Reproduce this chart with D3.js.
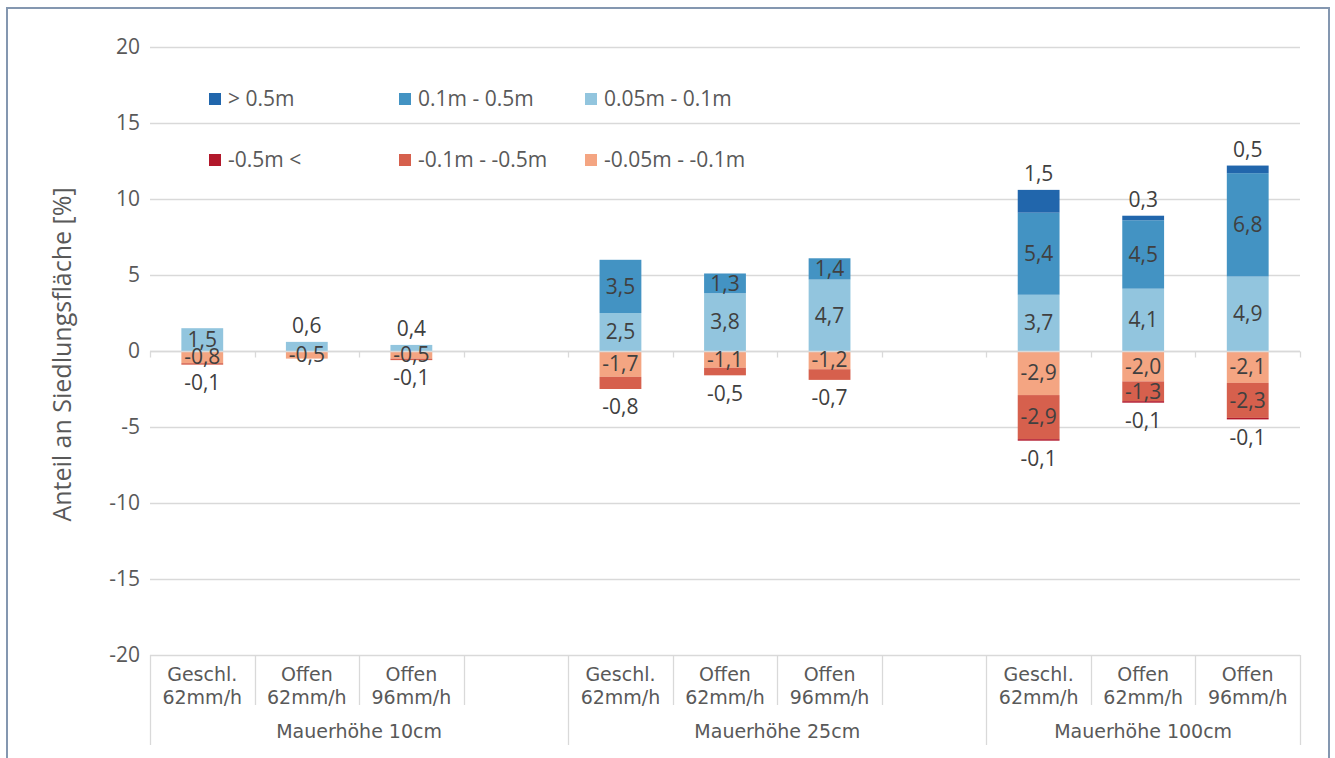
<!DOCTYPE html>
<html><head><meta charset="utf-8">
<script src="https://cdn.jsdelivr.net/npm/d3@7"></script>
<style>
html,body{margin:0;padding:0;background:#fff;}
svg{display:block;}
</style></head>
<body>
<svg id="chart" width="1335" height="758"></svg>
<script>
// ---------- DATA ----------
const groups = ["Mauerhöhe 10cm", "Mauerhöhe 25cm", "Mauerhöhe 100cm"];
const categoryLine1 = ["Geschl.", "Offen", "Offen"];
const categoryLine2 = ["62mm/h", "62mm/h", "96mm/h"];
// slot keys: 3 bars per group, empty slot after groups 1 and 2
const slots = ["g0c0","g0c1","g0c2","g0e","g1c0","g1c1","g1c2","g1e","g2c0","g2c1","g2c2"];
const barSlots = ["g0c0","g0c1","g0c2","g1c0","g1c1","g1c2","g2c0","g2c1","g2c2"];

const seriesNames = ["> 0.5m", "0.1m - 0.5m", "0.05m - 0.1m", "-0.5m <", "-0.1m - -0.5m", "-0.05m - -0.1m"];
const seriesColors = ["#2166ac", "#4393c3", "#92c5de", "#b2182b", "#d6604d", "#f4a582"];

// values per bar (order of barSlots)
const gt05     = [0, 0, 0,   0, 0, 0,   1.5, 0.3, 0.5];
const m01_05   = [0, 0, 0,   3.5, 1.3, 1.4,   5.4, 4.5, 6.8];
const m005_01  = [1.5, 0.6, 0.4,   2.5, 3.8, 4.7,   3.7, 4.1, 4.9];
const ltm05    = [0, 0, 0,   0, 0, 0,   -0.1, -0.1, -0.1];
const n01_05   = [-0.1, 0, -0.1,   -0.8, -0.5, -0.7,   -2.9, -1.3, -2.3];
const n005_01  = [-0.8, -0.5, -0.5,   -1.7, -1.1, -1.2,   -2.9, -2.0, -2.1];

const yTicks = [-20, -15, -10, -5, 0, 5, 10, 15, 20];
const yTitle = "Anteil an Siedlungsfläche [%]";

// ---------- LAYOUT ----------
const svg = d3.select("#chart");
const plot = {left: 150, right: 1300, top: 47, bottom: 655};

const x = d3.scaleBand().domain(slots).range([plot.left, plot.right]).paddingInner(0.6).paddingOuter(0.3);
const xSlot = d3.scaleBand().domain(slots).range([plot.left, plot.right]).padding(0);
const y = d3.scaleLinear().domain([-20, 20]).range([plot.bottom, plot.top]);

const loc = d3.formatLocale({decimal: ",", thousands: ".", grouping: [3], currency: ["", "€"], minus: "-"});
const fmt = loc.format(".1f");

// chart border
svg.append("rect").attr("x", 7).attr("y", 8).attr("width", 1322).attr("height", 800)
  .attr("fill", "none").attr("stroke", "#8497b0").attr("stroke-width", 2);

// gridlines
svg.append("g").selectAll("line").data(yTicks).join("line")
  .attr("x1", plot.left).attr("x2", plot.right)
  .attr("y1", d => Math.round(y(d)) + 0.5).attr("y2", d => Math.round(y(d)) + 0.5)
  .attr("stroke", "#d9d9d9").attr("stroke-width", 1.3);

// y tick labels
svg.append("g").selectAll("text").data(yTicks).join("text")
  .attr("x", 140).attr("y", d => y(d)).attr("dy", "0.35em")
  .attr("text-anchor", "end")
  .attr("font-family", "'Open Sans', sans-serif").attr("font-size", 21)
  .attr("fill", "#595959").text(d => d);

// y title
svg.append("text")
  .attr("transform", `translate(62,${(182 + 527) / 2}) rotate(-90)`)
  .attr("text-anchor", "middle").attr("dy", "0.35em")
  .attr("font-family", "'Open Sans', sans-serif").attr("font-size", 25)
  .attr("fill", "#595959").text(yTitle);

// ---------- BARS ----------
const posSeries = [
  {name: seriesNames[2], color: seriesColors[2], vals: m005_01, extreme: false},
  {name: seriesNames[1], color: seriesColors[1], vals: m01_05, extreme: false},
  {name: seriesNames[0], color: seriesColors[0], vals: gt05, extreme: true}
];
const negSeries = [
  {name: seriesNames[5], color: seriesColors[5], vals: n005_01, extreme: false, noOut: true},
  {name: seriesNames[4], color: seriesColors[4], vals: n01_05, extreme: false},
  {name: seriesNames[3], color: seriesColors[3], vals: ltm05, extreme: true}
];

const segs = [];
barSlots.forEach((slot, i) => {
  [posSeries, negSeries].forEach((ser, side) => {
    let base = 0;
    const list = [];
    ser.forEach(s => {
      const v = s.vals[i];
      if (v !== 0) {
        list.push({slot, v, y0: base, y1: base + v, s, side});
        base += v;
      }
    });
    list.forEach((d, j) => { d.outer = (j === list.length - 1); segs.push(d); });
  });
});

svg.append("g").selectAll("rect").data(segs).join("rect")
  .attr("x", d => x(d.slot))
  .attr("width", x.bandwidth())
  .attr("y", d => y(Math.max(d.y0, d.y1)))
  .attr("height", d => Math.abs(y(d.y0) - y(d.y1)))
  .attr("fill", d => d.s.color);

// category axis at 0 with tick marks
const y0px = Math.round(y(0)) + 0.5;
svg.append("line").attr("x1", plot.left).attr("x2", plot.right)
  .attr("y1", y0px).attr("y2", y0px).attr("stroke", "#d9d9d9").attr("stroke-width", 1.3);
const boundaries = slots.map(s => xSlot(s)).concat([plot.right]);
svg.append("g").selectAll("line").data(boundaries).join("line")
  .attr("x1", d => Math.round(d) + 0.5).attr("x2", d => Math.round(d) + 0.5)
  .attr("y1", y0px).attr("y2", y0px + 6)
  .attr("stroke", "#d9d9d9").attr("stroke-width", 1.3);

// data labels
const labels = svg.append("g");
segs.forEach(d => {
  const outside = d.outer && !d.s.noOut && (Math.abs(d.v) < 1 || d.s.extreme);
  let ly;
  if (outside) {
    ly = d.side === 0 ? y(d.y1) - 16 : y(d.y1) + 18;
  } else {
    ly = (y(d.y0) + y(d.y1)) / 2;
  }
  labels.append("text")
    .attr("x", x(d.slot) + x.bandwidth() / 2).attr("y", ly).attr("dy", "0.35em")
    .attr("text-anchor", "middle")
    .attr("font-family", "'Open Sans', sans-serif").attr("font-size", 21)
    .attr("fill", "#404040").text(fmt(d.v));
});

// ---------- CATEGORY TABLE ----------
const tbl = svg.append("g");
const rowTop = plot.bottom, rowMid = 705, rowBot = 745;
slots.forEach((s, i) => {
  if (i === 0) return;
  const xx = Math.round(xSlot(s)) + 0.5;
  const isGroupStart = s.endsWith("c0");
  tbl.append("line").attr("x1", xx).attr("x2", xx).attr("y1", rowTop)
    .attr("y2", isGroupStart ? rowBot : rowMid)
    .attr("stroke", "#d9d9d9").attr("stroke-width", 1.3);
});
[plot.left, plot.right].forEach(xx => {
  tbl.append("line").attr("x1", xx + 0.5).attr("x2", xx + 0.5).attr("y1", rowTop).attr("y2", rowBot)
    .attr("stroke", "#d9d9d9").attr("stroke-width", 1.3);
});

barSlots.forEach((s, i) => {
  const cx = xSlot(s) + xSlot.bandwidth() / 2;
  const c = i % 3;
  tbl.append("text").attr("x", cx).attr("y", 674).attr("dy", "0.35em").attr("text-anchor", "middle")
    .attr("font-family", "'DejaVu Sans', sans-serif").attr("font-size", 19).attr("fill", "#595959")
    .text(categoryLine1[c]);
  tbl.append("text").attr("x", cx).attr("y", 697).attr("dy", "0.35em").attr("text-anchor", "middle")
    .attr("font-family", "'DejaVu Sans', sans-serif").attr("font-size", 19).attr("fill", "#595959")
    .text(categoryLine2[c]);
});
groups.forEach((g, gi) => {
  const first = xSlot(`g${gi}c0`);
  const last = gi < 2 ? xSlot(`g${gi}e`) + xSlot.bandwidth() : plot.right;
  tbl.append("text").attr("x", (first + last) / 2).attr("y", 731).attr("dy", "0.35em").attr("text-anchor", "middle")
    .attr("font-family", "'DejaVu Sans', sans-serif").attr("font-size", 19).attr("fill", "#595959")
    .text(g);
});

// ---------- LEGEND ----------
const legX = [209, 399, 585];
const legY = [99, 160];
const leg = svg.append("g");
seriesNames.forEach((name, i) => {
  const col = i % 3, row = Math.floor(i / 3);
  leg.append("rect").attr("x", legX[col]).attr("y", legY[row] - 6).attr("width", 12).attr("height", 12)
    .attr("fill", seriesColors[i]);
  leg.append("text").attr("x", legX[col] + 19).attr("y", legY[row]).attr("dy", "0.35em")
    .attr("font-family", "'Open Sans', sans-serif").attr("font-size", 21).attr("fill", "#595959")
    .text(name);
});
</script>
</body></html>
